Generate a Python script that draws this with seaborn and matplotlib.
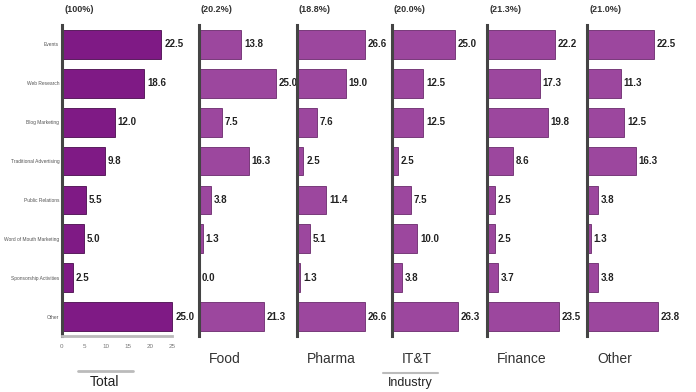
import numpy as np
import pandas as pd
import seaborn as sns
import matplotlib.pyplot as plt
from matplotlib.lines import Line2D

sns.set_style("white")
plt.rcParams['font.family'] = ['Liberation Sans', 'DejaVu Sans']

categories = ['Events', 'Web Research', 'Blog Marketing', 'Traditional Advertising',
              'Public Relations', 'Word of Mouth Marketing', 'Sponsorship Activities', 'Other']

panels = ['Total', 'Food', 'Pharma', 'IT&T', 'Finance', 'Other']
shares = ['(100%)', '(20.2%)', '(18.8%)', '(20.0%)', '(21.3%)', '(21.0%)']

total = [22.5, 18.6, 12.0, 9.8, 5.5, 5.0, 2.5, 25.0]
food = [13.8, 25.0, 7.5, 16.3, 3.8, 1.3, 0.0, 21.3]
pharma = [26.6, 19.0, 7.6, 2.5, 11.4, 5.1, 1.3, 26.6]
itt = [25.0, 12.5, 12.5, 2.5, 7.5, 10.0, 3.8, 26.3]
finance = [22.2, 17.3, 19.8, 8.6, 2.5, 2.5, 3.7, 23.5]
other = [22.5, 11.3, 12.5, 16.3, 3.8, 1.3, 3.8, 23.8]
values = [total, food, pharma, itt, finance, other]

# axis extents per panel (layout)
xmax = [31.0, 32.0, 37.0, 37.7, 32.7, 33.5]
lefts = [62, 199, 297, 392, 487, 587]
widths = [137, 98, 95, 95, 100, 100]

W, H = 696, 392
fig = plt.figure(figsize=(6.96, 3.92), dpi=100)

dark_spine = '#444444'
for i, name in enumerate(panels):
    ax = fig.add_axes([lefts[i] / W, 1 - 336 / H, widths[i] / W, 311 / H])
    df = pd.DataFrame({'cat': categories, 'val': values[i]})
    col = '#7f1a85' if i == 0 else '#9c479e'
    edge = '#4a0c4e' if i == 0 else '#6a2a6c'
    sns.barplot(data=df, x='val', y='cat', ax=ax, color=col, width=0.74,
                edgecolor=edge, linewidth=0.6, saturation=1)
    ax.bar_label(ax.containers[0], fmt='%.1f', padding=2, fontsize=7,
                 color='#222222', fontweight='bold')
    ax.set_xlim(0, xmax[i])
    ax.set_xlabel('')
    ax.set_ylabel('')
    for s in ['top', 'right']:
        ax.spines[s].set_visible(False)
    ax.spines['left'].set_color(dark_spine)
    ax.spines['left'].set_linewidth(2.2)
    ax.text(0.02, 1.035, shares[i], transform=ax.transAxes, fontsize=6.5,
            fontweight='bold', color='#333333', va='bottom')
    if i == 0:
        ax.tick_params(axis='y', length=0, labelsize=3.5, labelcolor='#555555', pad=2)
        ax.set_xticks([0, 5, 10, 15, 20, 25])
        ax.tick_params(axis='x', direction='in', length=3, width=1, color='#333333',
                       labelsize=4.5, labelcolor='#777777', pad=6)
        ax.spines['bottom'].set_bounds(0, 25)
        ax.spines['bottom'].set_color('#bbbbbb')
        ax.spines['bottom'].set_linewidth(2)
    else:
        ax.set_yticks([])
        ax.set_xticks([])
        ax.spines['bottom'].set_visible(False)
        ax.text(0.1, -0.075, name, transform=ax.transAxes, fontsize=10,
                color='#333333', va='center', ha='left')

fig.text(105 / W, 1 - 382 / H, 'Total', fontsize=10, ha='center', va='center', color='#222222')
fig.add_artist(Line2D([78 / W, 133 / W], [1 - 371 / H] * 2, color='#bbbbbb', lw=2))
fig.text(410 / W, 1 - 383 / H, 'Industry', fontsize=9, ha='center', va='center', color='#222222')
fig.add_artist(Line2D([383 / W, 438 / W], [1 - 373 / H] * 2, color='#bbbbbb', lw=1.5))

fig.savefig('out.png', dpi=100)
